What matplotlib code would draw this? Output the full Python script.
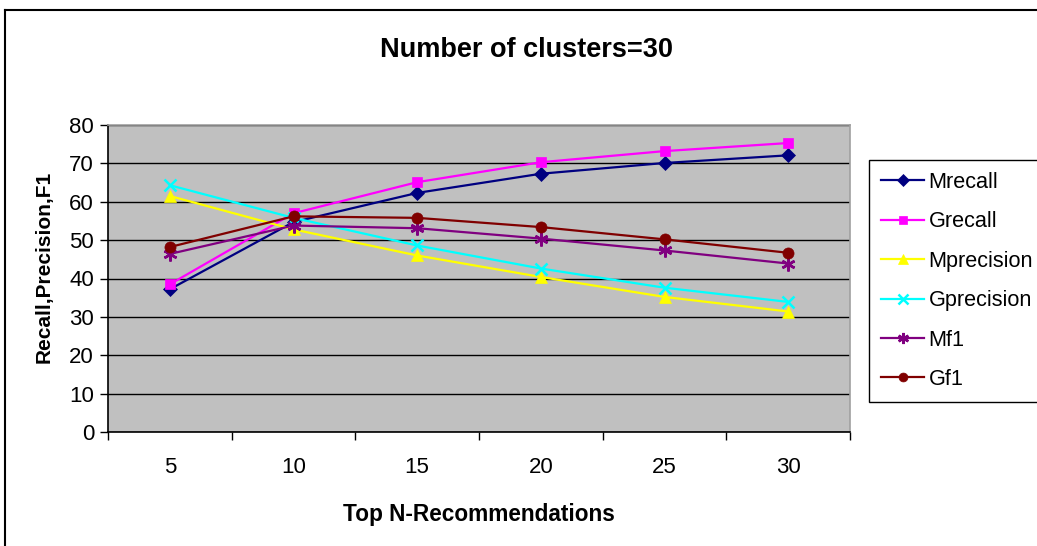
import matplotlib
matplotlib.use("Agg")
import matplotlib.pyplot as plt
from matplotlib.lines import Line2D

plt.rcParams['font.family'] = ['Liberation Sans', 'DejaVu Sans']

categories = ["5", "10", "15", "20", "25", "30"]
mrecall = [37.2, 54.7, 62.3, 67.3, 70.1, 72.1]
grecall = [38.5, 57.0, 65.1, 70.3, 73.2, 75.3]
mprecision = [61.5, 52.8, 46.0, 40.4, 35.2, 31.4]
gprecision = [64.3, 55.8, 48.6, 42.6, 37.6, 33.9]
mf1 = [46.4, 53.8, 53.1, 50.4, 47.3, 43.9]
gf1 = [48.2, 56.2, 55.8, 53.4, 50.2, 46.7]

series = [
    ("Mrecall", mrecall, "#000080", "D", 7.5),
    ("Grecall", grecall, "#FF00FF", "s", 7.5),
    ("Mprecision", mprecision, "#FFFF00", "^", 9),
    ("Gprecision", gprecision, "#00FFFF", "x", 9),
    ("Mf1", mf1, "#800080", (6, 2, 0), 10),
    ("Gf1", gf1, "#800000", "o", 8),
]

FS = 16.0
W, H = 1037, 546
fig = plt.figure(figsize=(W / 100, H / 100), dpi=100)
fig.patch.set_facecolor("white")

ax = fig.add_axes([108 / W, 1 - 432 / H, (850 - 108) / W, (432 - 125) / H])
ax.set_facecolor("#C0C0C0")

xs = list(range(len(categories)))
for name, vals, color, marker, ms in series:
    kw = dict(markeredgewidth=1.8) if marker in ("x", (6, 2, 0)) else dict(markeredgewidth=0.5)
    ax.plot(xs, vals, color=color, linewidth=1.6, marker=marker, markersize=ms,
            markerfacecolor=color, markeredgecolor=color, label=name, zorder=3, **kw)

ax.set_xlim(-0.5, len(categories) - 0.5)
ax.set_ylim(0, 80)
ax.set_yticks(range(0, 81, 10))
ax.yaxis.grid(True, color="black", linewidth=1.0, zorder=1)
ax.set_axisbelow(True)

ax.set_xticks(xs)
ax.set_xticklabels(categories)
ax.set_xticks([i - 0.5 for i in range(len(categories) + 1)], minor=True)
ax.tick_params(axis="x", which="major", length=0, pad=18, labelsize=FS)
ax.tick_params(axis="x", which="minor", length=6, width=1, direction="out", color="black")
ax.tick_params(axis="y", which="major", length=6, width=1, direction="out", pad=4, labelsize=FS)

for s in ("left", "bottom"):
    ax.spines[s].set_color("black")
    ax.spines[s].set_linewidth(1.2)
for s in ("top", "right"):
    ax.spines[s].set_color("#A0A0A0")
    ax.spines[s].set_linewidth(1.2)

ax.set_xlabel("Top N-Recommendations", fontsize=16.3, fontweight="bold", labelpad=18)
ax.set_ylabel("Recall,Precision,F1", fontsize=15, fontweight="bold", va="center")
ax.yaxis.set_label_coords((44 - 108) / (850 - 108), (432 - 267) / (432 - 125))
fig.text(527 / W, 1 - 50 / H, "Number of clusters=30", fontsize=19.5, fontweight="bold",
         ha="center", va="center")

leg = fig.legend(loc="upper left", bbox_to_anchor=(869 / W, 1 - 160 / H), fontsize=15.6,
                 frameon=True, fancybox=False, edgecolor="black", framealpha=1,
                 handlelength=2.0, handletextpad=0.2, labelspacing=0.85,
                 borderpad=0.55, borderaxespad=0, markerscale=0.8)
leg.get_frame().set_linewidth(1.0)

# outer chart frame
fig.add_artist(Line2D([5 / W, 5 / W], [0, 1 - 10 / H], color="black", linewidth=1.5,
                      transform=fig.transFigure))
fig.add_artist(Line2D([5 / W, 1], [1 - 10 / H, 1 - 10 / H], color="black", linewidth=1.5,
                      transform=fig.transFigure))

fig.savefig("out.png", dpi=100)
